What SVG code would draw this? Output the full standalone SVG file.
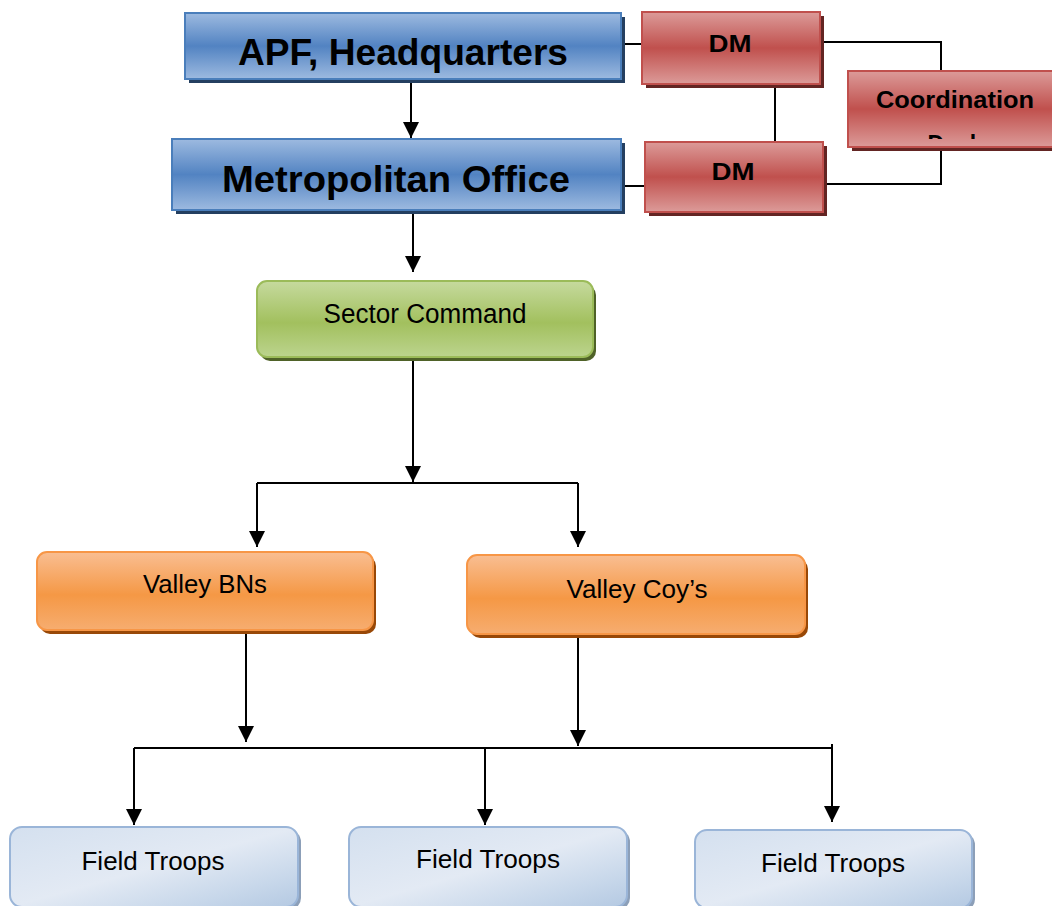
<svg xmlns="http://www.w3.org/2000/svg" width="1052" height="906" viewBox="0 0 1052 906">
<style>
text{font-family:"Liberation Sans",Arial,sans-serif;fill:#000;text-anchor:middle}
.b{font-weight:bold}
.c line,.c polyline{stroke:#000;stroke-width:2;fill:none}
.arr{marker-end:url(#ah)}
</style>
<defs>
<marker id="ah" markerUnits="userSpaceOnUse" markerWidth="16" markerHeight="16" refX="15" refY="7.5" orient="auto" viewBox="0 0 15 15"><path d="M0,0 L15,7.5 L0,15 z" fill="#000"/></marker>
<linearGradient id="gBlue" x1="0" y1="0" x2="0" y2="1"><stop offset="0" stop-color="#9dbae0"/><stop offset="0.5" stop-color="#5283c2"/><stop offset="1" stop-color="#9dbae0"/></linearGradient>
<linearGradient id="gRed" x1="0" y1="0" x2="0" y2="1"><stop offset="0" stop-color="#dc9b99"/><stop offset="0.5" stop-color="#c0504d"/><stop offset="1" stop-color="#dc9b99"/></linearGradient>
<linearGradient id="gGreen" x1="0" y1="0" x2="0" y2="1"><stop offset="0" stop-color="#c6da9e"/><stop offset="0.55" stop-color="#a2c05e"/><stop offset="1" stop-color="#bcd48e"/></linearGradient>
<linearGradient id="gOrange" x1="0" y1="0" x2="0" y2="1"><stop offset="0" stop-color="#f9be92"/><stop offset="0.55" stop-color="#f59845"/><stop offset="1" stop-color="#f6ad70"/></linearGradient>
<linearGradient id="gLight" x1="0" y1="0" x2="1" y2="1"><stop offset="0" stop-color="#d4e0ef"/><stop offset="0.5" stop-color="#e3eaf4"/><stop offset="0.8" stop-color="#c7d7ea"/><stop offset="1" stop-color="#b4c9e2"/></linearGradient>
<clipPath id="cdClip"><rect x="848" y="71" width="204" height="68"/></clipPath>
</defs>

<g id="connectors" class="c">
<line class="arr" x1="411" y1="80" x2="411" y2="138"/>
<line class="arr" x1="413" y1="211" x2="413" y2="272"/>
<line class="arr" x1="413" y1="358" x2="413" y2="482"/>
<polyline points="257,483 578,483"/>
<line class="arr" x1="257" y1="483" x2="257" y2="547"/>
<line class="arr" x1="578" y1="483" x2="578" y2="547"/>
<line class="arr" x1="246" y1="631" x2="246" y2="742"/>
<line class="arr" x1="578" y1="635" x2="578" y2="746"/>
<polyline points="134,748 832,748"/>
<line class="arr" x1="134" y1="748" x2="134" y2="825"/>
<line class="arr" x1="485" y1="748" x2="485" y2="825"/>
<line class="arr" x1="832" y1="744" x2="832" y2="822"/>
<line x1="622" y1="44" x2="642" y2="44"/>
<polyline points="820,42 941,42 941,71"/>
<polyline points="941,147 941,184 823,184"/>
<line x1="775" y1="84" x2="775" y2="142"/>
<line x1="621" y1="186" x2="645" y2="186"/>
</g>

<g id="hq">
<rect x="189" y="17" width="436" height="66" fill="#243f60"/>
<rect x="185" y="13" width="436" height="66" fill="url(#gBlue)" stroke="#4a7ebb" stroke-width="2"/>
<text class="b" x="403" y="65" font-size="37" textLength="330" lengthAdjust="spacingAndGlyphs">APF, Headquarters</text>
</g>

<g id="metro">
<rect x="176" y="143" width="449" height="71" fill="#243f60"/>
<rect x="172" y="139" width="449" height="71" fill="url(#gBlue)" stroke="#4a7ebb" stroke-width="2"/>
<text class="b" x="396" y="192" font-size="37" textLength="348" lengthAdjust="spacingAndGlyphs">Metropolitan Office</text>
</g>

<g id="dm1">
<rect x="646" y="16" width="178" height="72" fill="#632523"/>
<rect x="642" y="12" width="178" height="72" fill="url(#gRed)" stroke="#c0504d" stroke-width="2"/>
<text class="b" x="730" y="52" font-size="24" textLength="43" lengthAdjust="spacingAndGlyphs">DM</text>
</g>

<g id="dm2">
<rect x="649" y="146" width="178" height="70" fill="#632523"/>
<rect x="645" y="142" width="178" height="70" fill="url(#gRed)" stroke="#c0504d" stroke-width="2"/>
<text class="b" x="733" y="180" font-size="24" textLength="43" lengthAdjust="spacingAndGlyphs">DM</text>
</g>

<g id="coord">
<rect x="852" y="75" width="204" height="76" fill="#632523"/>
<rect x="848" y="71" width="206" height="76" fill="url(#gRed)" stroke="#c0504d" stroke-width="2"/>
<text class="b" x="955" y="108" font-size="23" textLength="158" lengthAdjust="spacingAndGlyphs">Coordination</text>
<text class="b" x="955" y="152" font-size="23" clip-path="url(#cdClip)">Desk</text>
</g>

<g id="sector">
<rect x="260" y="285" width="336" height="76" rx="10" fill="#4f6228"/>
<rect x="257" y="281" width="336" height="76" rx="10" fill="url(#gGreen)" stroke="#9bbb59" stroke-width="2"/>
<text x="425" y="323" font-size="27" textLength="203" lengthAdjust="spacingAndGlyphs">Sector Command</text>
</g>

<g id="bns">
<rect x="40" y="556" width="336" height="78" rx="10" fill="#984807"/>
<rect x="37" y="552" width="336" height="78" rx="10" fill="url(#gOrange)" stroke="#f79646" stroke-width="2"/>
<text x="205" y="593" font-size="26" textLength="124" lengthAdjust="spacingAndGlyphs">Valley BNs</text>
</g>

<g id="coys">
<rect x="470" y="559" width="338" height="79" rx="10" fill="#984807"/>
<rect x="467" y="555" width="338" height="79" rx="10" fill="url(#gOrange)" stroke="#f79646" stroke-width="2"/>
<text x="637" y="598" font-size="26" textLength="141" lengthAdjust="spacingAndGlyphs">Valley Coy’s</text>
</g>

<g id="ft1">
<rect x="13" y="830" width="288" height="80" rx="12" fill="#8c9fb8"/>
<rect x="10" y="827" width="288" height="80" rx="12" fill="url(#gLight)" stroke="#9ab5d8" stroke-width="2"/>
<text x="153" y="870" font-size="26" textLength="143" lengthAdjust="spacingAndGlyphs">Field Troops</text>
</g>

<g id="ft2">
<rect x="352" y="830" width="278" height="80" rx="12" fill="#8c9fb8"/>
<rect x="349" y="827" width="278" height="80" rx="12" fill="url(#gLight)" stroke="#9ab5d8" stroke-width="2"/>
<text x="488" y="868" font-size="26" textLength="144" lengthAdjust="spacingAndGlyphs">Field Troops</text>
</g>

<g id="ft3">
<rect x="698" y="833" width="277" height="78" rx="12" fill="#8c9fb8"/>
<rect x="695" y="830" width="277" height="78" rx="12" fill="url(#gLight)" stroke="#9ab5d8" stroke-width="2"/>
<text x="833" y="872" font-size="26" textLength="144" lengthAdjust="spacingAndGlyphs">Field Troops</text>
</g>
</svg>
